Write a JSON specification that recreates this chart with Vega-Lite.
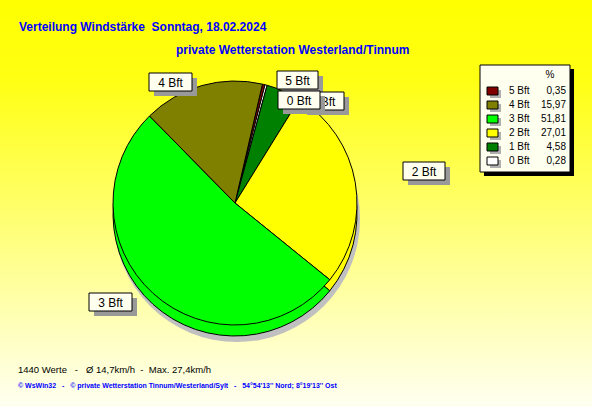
{
  "$schema": "https://vega.github.io/schema/vega-lite/v6.json",
  "width": 592,
  "height": 407,
  "padding": 0,
  "autosize": {"type": "none"},
  "background": "#ffffff",
  "config": {
    "view": {"stroke": null},
    "font": "Liberation Sans",
    "locale": {"number": {"decimal": ",", "thousands": ".", "grouping": [3], "currency": ["", " €"]}}
  },
  "datasets": {
    "wind": [
      {"label": "5 Bft", "pct": 0.35, "rank": 1},
      {"label": "0 Bft", "pct": 0.28, "rank": 2},
      {"label": "1 Bft", "pct": 4.58, "rank": 3},
      {"label": "2 Bft", "pct": 27.01, "rank": 4},
      {"label": "3 Bft", "pct": 51.81, "rank": 5},
      {"label": "4 Bft", "pct": 15.97, "rank": 6}
    ]
  },
  "layer": [
    {
      "data": {"values": [{}]},
      "mark": {"type": "rect", "x": 0, "x2": 592, "y": 0, "y2": 407,
        "fill": {"gradient": "linear", "x1": 0, "y1": 0, "x2": 0, "y2": 1,
          "stops": [{"offset": 0, "color": "#FFFF00"}, {"offset": 0.2, "color": "#FFFF14"}, {"offset": 1, "color": "#FFFFF2"}]}},
      "encoding": {}
    },
    {
      "data": {"values": [{}]},
      "mark": {"type": "arc", "radius": 123, "theta": 0, "theta2": 6.2832, "fill": "#C0C0C0"},
      "encoding": {"x": {"value": 237}, "y": {"value": 219}}
    },
    {
      "data": {"name": "wind"},
      "mark": {"type": "arc", "radius": 122, "stroke": "#000000", "strokeWidth": 1},
      "encoding": {
        "theta": {"field": "pct", "type": "quantitative", "stack": true, "scale": {"range": [0.2269, 6.5101]}},
        "order": {"field": "rank"},
        "color": {"field": "label", "type": "nominal",
          "scale": {"domain": ["5 Bft", "4 Bft", "3 Bft", "2 Bft", "1 Bft", "0 Bft"],
                    "range": ["#800000", "#808000", "#00FF00", "#FFFF00", "#008000", "#FFFFFF"]},
          "legend": null},
        "x": {"value": 235},
        "y": {"value": 214}
      }
    },
    {
      "data": {"name": "wind"},
      "mark": {"type": "arc", "radius": 122, "stroke": "#000000", "strokeWidth": 1},
      "encoding": {
        "theta": {"field": "pct", "type": "quantitative", "stack": true},
        "order": {"field": "rank"},
        "color": {"field": "label", "type": "nominal", "legend": null},
        "x": {"value": 235},
        "y": {"value": 203}
      }
    },
    {
      "data": {"values": [{}]},
      "mark": {"type": "rect", "x": 484, "x2": 574, "y": 69, "y2": 176, "fill": "#000000"},
      "encoding": {}
    },
    {
      "data": {"values": [{}]},
      "mark": {"type": "rect", "x": 480, "x2": 570, "y": 65, "y2": 172, "fill": "#FFFFF0", "stroke": "#000000", "strokeWidth": 1},
      "encoding": {}
    },
    {
      "data": {"values": [{}]},
      "mark": {"type": "text", "text": "%", "fontSize": 10, "align": "center", "baseline": "middle"},
      "encoding": {"x": {"value": 550}, "y": {"value": 75}}
    },
    {
      "data": {"name": "wind"},
      "mark": {"type": "point", "filled": true, "shape": "M-1,-0.727H1V0.727H-1Z", "size": 121, "fill": "#B0B0B0", "opacity": 1, "xOffset": 3, "yOffset": 3},
      "encoding": {
        "x": {"value": 492.5},
        "y": {"field": "label", "type": "nominal",
          "scale": {"type": "point", "domain": ["5 Bft", "4 Bft", "3 Bft", "2 Bft", "1 Bft", "0 Bft"], "range": [91, 161], "padding": 0},
          "axis": null}
      }
    },
    {
      "data": {"name": "wind"},
      "mark": {"type": "point", "filled": true, "shape": "M-1,-0.727H1V0.727H-1Z", "size": 121, "stroke": "#000000", "strokeWidth": 1, "opacity": 1},
      "encoding": {
        "x": {"value": 492.5},
        "y": {"field": "label", "type": "nominal"},
        "color": {"field": "label", "type": "nominal", "legend": null}
      }
    },
    {
      "data": {"name": "wind"},
      "mark": {"type": "text", "fontSize": 10, "align": "left", "baseline": "middle", "color": "#000000"},
      "encoding": {
        "x": {"value": 509},
        "y": {"field": "label", "type": "nominal"},
        "text": {"field": "label"}
      }
    },
    {
      "data": {"name": "wind"},
      "mark": {"type": "text", "fontSize": 10, "align": "right", "baseline": "middle", "color": "#000000"},
      "encoding": {
        "x": {"value": 566},
        "y": {"field": "label", "type": "nominal"},
        "text": {"field": "pct", "type": "quantitative", "format": ".2f"}
      }
    },
    {"data": {"values": [{}]}, "mark": {"type": "rect", "x": 154, "x2": 197, "y": 78, "y2": 96, "fill": "#999999"}, "encoding": {}},
    {"data": {"values": [{}]}, "mark": {"type": "rect", "x": 149, "x2": 192, "y": 73, "y2": 91, "fill": "#FFFFF0", "stroke": "#000000", "strokeWidth": 1}, "encoding": {}},
    {"data": {"values": [{}]}, "mark": {"type": "text", "text": "4 Bft", "fontSize": 12, "align": "center", "baseline": "middle"}, "encoding": {"x": {"value": 170.5}, "y": {"value": 82.5}}},

    {"data": {"values": [{}]}, "mark": {"type": "rect", "x": 282, "x2": 323, "y": 76, "y2": 94, "fill": "#999999"}, "encoding": {}},
    {"data": {"values": [{}]}, "mark": {"type": "rect", "x": 277, "x2": 318, "y": 71, "y2": 89, "fill": "#FFFFF0", "stroke": "#000000", "strokeWidth": 1}, "encoding": {}},
    {"data": {"values": [{}]}, "mark": {"type": "text", "text": "5 Bft", "fontSize": 12, "align": "center", "baseline": "middle"}, "encoding": {"x": {"value": 297.5}, "y": {"value": 80.5}}},

    {"data": {"values": [{}]}, "mark": {"type": "rect", "x": 307, "x2": 349, "y": 97, "y2": 115, "fill": "#999999"}, "encoding": {}},
    {"data": {"values": [{}]}, "mark": {"type": "rect", "x": 302, "x2": 344, "y": 92, "y2": 110, "fill": "#FFFFF0", "stroke": "#000000", "strokeWidth": 1}, "encoding": {}},
    {"data": {"values": [{}]}, "mark": {"type": "text", "text": "1 Bft", "fontSize": 12, "align": "center", "baseline": "middle"}, "encoding": {"x": {"value": 323}, "y": {"value": 101.5}}},

    {"data": {"values": [{}]}, "mark": {"type": "rect", "x": 283, "x2": 325, "y": 96, "y2": 114, "fill": "#999999"}, "encoding": {}},
    {"data": {"values": [{}]}, "mark": {"type": "rect", "x": 278, "x2": 320, "y": 91, "y2": 109, "fill": "#FFFFF0", "stroke": "#000000", "strokeWidth": 1}, "encoding": {}},
    {"data": {"values": [{}]}, "mark": {"type": "text", "text": "0 Bft", "fontSize": 12, "align": "center", "baseline": "middle"}, "encoding": {"x": {"value": 299}, "y": {"value": 100.5}}},

    {"data": {"values": [{}]}, "mark": {"type": "rect", "x": 408, "x2": 450, "y": 167, "y2": 185, "fill": "#999999"}, "encoding": {}},
    {"data": {"values": [{}]}, "mark": {"type": "rect", "x": 403, "x2": 445, "y": 162, "y2": 180, "fill": "#FFFFF0", "stroke": "#000000", "strokeWidth": 1}, "encoding": {}},
    {"data": {"values": [{}]}, "mark": {"type": "text", "text": "2 Bft", "fontSize": 12, "align": "center", "baseline": "middle"}, "encoding": {"x": {"value": 424}, "y": {"value": 171.5}}},

    {"data": {"values": [{}]}, "mark": {"type": "rect", "x": 94, "x2": 137, "y": 298, "y2": 316, "fill": "#999999"}, "encoding": {}},
    {"data": {"values": [{}]}, "mark": {"type": "rect", "x": 89, "x2": 132, "y": 293, "y2": 311, "fill": "#FFFFF0", "stroke": "#000000", "strokeWidth": 1}, "encoding": {}},
    {"data": {"values": [{}]}, "mark": {"type": "text", "text": "3 Bft", "fontSize": 12, "align": "center", "baseline": "middle"}, "encoding": {"x": {"value": 110.5}, "y": {"value": 302.5}}},

    {"data": {"values": [{}]}, "mark": {"type": "text", "text": "Verteilung Windstärke\u00a0\u00a0Sonntag, 18.02.2024", "fontSize": 12, "fontWeight": "bold", "color": "#0000FF", "align": "left", "baseline": "alphabetic"}, "encoding": {"x": {"value": 19}, "y": {"value": 31}}},
    {"data": {"values": [{}]}, "mark": {"type": "text", "text": "private Wetterstation Westerland/Tinnum", "fontSize": 12, "fontWeight": "bold", "color": "#0000FF", "align": "left", "baseline": "alphabetic"}, "encoding": {"x": {"value": 176}, "y": {"value": 54}}},
    {"data": {"values": [{}]}, "mark": {"type": "text", "text": "1440 Werte\u00a0\u00a0\u00a0-\u00a0\u00a0\u00a0Ø 14,7km/h\u00a0\u00a0-\u00a0\u00a0Max. 27,4km/h", "fontSize": 9.5, "color": "#000000", "align": "left", "baseline": "alphabetic"}, "encoding": {"x": {"value": 18}, "y": {"value": 373}}},
    {"data": {"values": [{}]}, "mark": {"type": "text", "text": "© WsWin32\u00a0\u00a0\u00a0-\u00a0\u00a0\u00a0© private Wetterstation Tinnum/Westerland/Sylt\u00a0\u00a0\u00a0-\u00a0\u00a0\u00a054°54'13'' Nord; 8°19'13'' Ost", "fontSize": 7, "fontWeight": "bold", "color": "#0000FF", "align": "left", "baseline": "alphabetic"}, "encoding": {"x": {"value": 18}, "y": {"value": 388}}}
  ]
}
